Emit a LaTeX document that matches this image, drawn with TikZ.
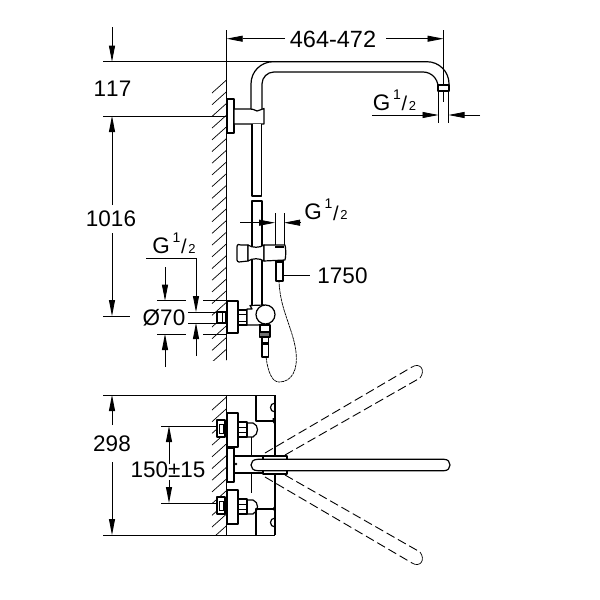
\documentclass[tikz,border=0pt]{standalone}
\usepackage{fontspec}
\setmainfont[Kerning=Off]{Liberation Sans}
\usetikzlibrary{arrows.meta}
\tikzset{
  dim/.style={line width=0.8pt,color=black},
  dimarrow/.style={dim,-{Triangle[length=16pt,width=6pt]}},
  part/.style={line width=1.2pt,line join=round,fill=white},
  partline/.style={line width=1.2pt,line join=round},
  thinp/.style={line width=0.7pt},
  hatchline/.style={line width=0.7pt},
  dashp/.style={line width=0.9pt,dash pattern=on 9pt off 4pt},
  big/.style={inner sep=0pt,font=\fontsize{22.5}{24}\selectfont},
  sup/.style={inner sep=0pt,font=\fontsize{14}{15}\selectfont},
  subn/.style={inner sep=0pt,font=\fontsize{13}{14}\selectfont},
  slashn/.style={inner sep=0pt,font=\fontsize{20}{21}\selectfont}
}
\newcommand{\gthread}[3]{%
  \node[big,anchor=center] (#3g) at (#1,#2) {G};
  \node[sup] (#3a) at (#1+15.5,#2-8) {1};
  \node[slashn] (#3s) at (#1+23,#2+1) {/};
  \node[subn] (#3b) at (#1+31,#2+3) {2};
}
\begin{document}
\begin{tikzpicture}[x=1pt,y=-1pt]
\useasboundingbox (0,0) rectangle (600,600);
\fill[white] (0,0) rectangle (600,600);

% --- walls
\begin{scope}
\clip (205,80) rectangle (227,360);
\foreach \y in {80,91.7,...,365}{\draw[hatchline] (226.5,\y) -- (212,\y+13);}
\end{scope}
\begin{scope}
\clip (205,395) rectangle (227,535);
\foreach \y in {397,408.7,...,535}{\draw[hatchline] (226.5,\y) -- (212,\y+13);}
\end{scope}
\draw[dim] (226.7,30) -- (226.7,360);
\draw[dim] (226.7,395) -- (226.7,535);

% --- upper dimension lines
\draw[dim] (103,61.7) -- (275,61.7);
\draw[dim] (103,116) -- (226.7,116);
\draw[dimarrow] (112,27) -- (112,61.7);
\draw[dimarrow] (112,205) -- (112,116);
\draw[dimarrow] (112,233) -- (112,316);
\draw[dim] (103,316) -- (130,316);
\node[big] (n117) at (112.5,89) {117};
\node[big] (n1016) at (111,219) {1016};
\draw[dimarrow] (285,38.7) -- (226.7,38.7);
\draw[dimarrow] (386,38.7) -- (443.5,38.7);
\node[big,font=\fontsize{23.5}{24}\selectfont] (n464) at (333,39) {464-472};
\draw[dim] (443.5,30) -- (443.5,102);

% --- shower arm
\draw[partline] (251,110) -- (251,84) .. controls (251,71.4) and (261,61.7) .. (273.3,61.7) -- (427,61.7) .. controls (439,61.7) and (449,71.5) .. (449,83.7) -- (449,91);
\draw[partline] (262,110) -- (262,84) .. controls (262,77.4) and (267.4,72) .. (274,72) -- (423,72) .. controls (431.3,72) and (438,78.7) .. (438,87) -- (438,91);
\draw[part] (438,85) rectangle (449,91);
\draw[dim] (438.5,91) -- (438.5,123);
\draw[dim] (448.5,91) -- (448.5,123);
\draw[dimarrow] (372,115) -- (438.5,115);
\draw[dimarrow] (480,115) -- (448.5,115);
\gthread{381.5}{102.5}{ga}

% --- wall bracket and riser
\draw[part] (227,99) rectangle (234,133);
\draw[part] (234,109) -- (250,109) .. controls (254,109) and (256,111) .. (257,111) .. controls (259,111) and (261,109) .. (264,108.5) -- (264,124) -- (234,124) -- cycle;
\draw[part] (252,124) -- (252,196) -- (261.5,196) -- (261.5,124);
\draw[part] (252,310) -- (252,201) -- (262,201) -- (262,310);

% --- slider clamp
\draw[part] (237,247) .. controls (237,244) and (239,244) .. (241,245) .. controls (243,246) and (246,244) .. (248,245) -- (248,261) -- (239,262) .. controls (238,262) and (237,261) .. (237,260) -- cycle;
\draw[part] (248,245) .. controls (252,248) and (260,248) .. (264,245) -- (264,261) .. controls (260,258) and (252,258) .. (248,261) -- cycle;
\draw[part] (264,245) -- (285,245) .. controls (286,248) and (286,257) .. (285,260) -- (264,261) -- cycle;
\draw[part] (276,262) rectangle (283,281);
\draw[partline] (276,260) -- (276,262) (283,260) -- (283,262);
\draw[line width=1.8pt] (275,247) -- (284,247);
\draw[dim] (275,213) -- (275,245);
\draw[dim] (284,213) -- (284,245);
\draw[dimarrow] (240,222.7) -- (275,222.7);
\draw[dimarrow] (301,222.7) -- (284,222.7);
\gthread{313}{212}{gb}
\draw[dim] (283,275) -- (310,275);
\node[big] (n1750) at (342.5,276) {1750};

% --- lower connection, side view
\draw[dim] (157,300.7) -- (186,300.7);
\draw[dim] (203,300.7) -- (227,300.7);
\draw[dim] (157,334) -- (186,334);
\draw[dim] (203,334) -- (227,334);
\draw[dim] (188,312) -- (217,312);
\draw[dim] (188,323) -- (217,323);
\draw[dim] (146,258) -- (196,258) -- (196,296);
\draw[dimarrow] (196,290) -- (196,312);
\draw[dimarrow] (196,356) -- (196,323);
\draw[dimarrow] (165,267) -- (165,300.7);
\draw[dimarrow] (165,367) -- (165,334);
\gthread{161}{245.5}{gc}
\node[big] (n70) at (164,318) {Ø70};
\draw[part] (217,312) rectangle (226,323);
\draw[thinp] (222,312) -- (222,323);
\draw[part] (227,301) rectangle (238,333);
\draw[part] (238,310) rectangle (247,325);
\draw[thinp] (238,314) -- (247,314) (238,321) -- (247,321);
\draw[part] (247,309) -- (252,309) -- (250,305.5) -- (264,305) -- (264,324) -- (258,325) -- (247,325) -- cycle;
\draw[part] (260,325) rectangle (270,332);
\draw[part] (265.5,314.5) circle[radius=9.5];
\draw[partline,fill=black!55] (259.5,332) rectangle (270,337);
\draw[part] (262,337) rectangle (268.5,357);
\fill (262,342) rectangle (268.5,344.5);
\draw[thinp,dash pattern=on 3pt off 0.6pt] (266,357) .. controls (268,372) and (272,382) .. (279,382) .. controls (292,382) and (298,370) .. (296,352) .. controls (293,328) and (280,310) .. (279,281);

% --- lower view dimension lines
\draw[dim] (103,395) -- (275,395);
\draw[dim] (103,535) -- (275,535);
\draw[dimarrow] (112,425) -- (112,395);
\draw[dimarrow] (112,462) -- (112,535);
\node[big] (n298) at (112,444) {298};
\draw[dim] (161,426) -- (217,426);
\draw[dim] (161,503) -- (217,503);
\draw[dimarrow] (169,464) -- (169,426);
\draw[dimarrow] (169,480) -- (169,503);
\node[big] (n150) at (168,470) {150±15};

% --- bottom view
\draw[line width=1.2pt] (275,395) -- (275,535);
\draw[partline] (256,395) -- (256,421) -- (275,421);
\draw[partline] (256,535) -- (256,509) -- (275,509);
\draw[partline] (275,403) .. controls (269,403) and (269,412) .. (275,412);
\draw[partline] (275,518) .. controls (269,518) and (269,527) .. (275,527);
\fill (272.5,418) -- (275,418) -- (275,425) -- (272.5,421.5) -- cycle;
\fill (272.5,509) -- (275,505) -- (275,512) -- cycle;
\foreach \yy in {0,77}{
  \draw[part] (217,420+\yy) rectangle (225,437+\yy);
  \draw[thinp] (219,424+\yy) rectangle (223,433+\yy);
  \draw[part] (227,413+\yy) rectangle (238,447+\yy);
  \draw[part] (238,422+\yy) rectangle (247,437+\yy);
  \draw[thinp] (238,427+\yy) -- (247,427+\yy) (238,432+\yy) -- (247,432+\yy);
  \draw[partline] (247,423+\yy) -- (253,423+\yy) .. controls (259,425+\yy) and (259,434+\yy) .. (253,437+\yy) -- (247,437+\yy);
}
\draw[partline] (251.5,437) -- (251.5,456);
\draw[partline] (251.5,472) -- (251.5,493);
\draw[dashp] (265,453) -- (412,367);
\draw[dashp] (285,455) -- (420,378);
\draw[dashp] (265,477) -- (412,563);
\draw[dashp] (285,475) -- (420,552);
\draw[thinp] (412,367) .. controls (420,362) and (426,370) .. (420,378);
\draw[thinp] (412,563) .. controls (420,568) and (426,560) .. (420,552);
\draw[part] (227,448) rectangle (234,482);
\draw[partline] (234,456) -- (263,456);
\draw[partline] (234,473) -- (263,473);
\draw[part] (263,456) rectangle (287,459.5);
\draw[part] (263,470.5) rectangle (287,474);
\draw[part] (444,459.3) .. controls (448,459.3) and (450,462) .. (450,465) .. controls (450,468) and (448,470.7) .. (444,470.7) -- (258,470.7) .. controls (253,470.7) and (251,468) .. (251,465) .. controls (251,462) and (253,459.3) .. (258,459.3) -- cycle;
\fill (236,464) circle[radius=1.3];
\end{tikzpicture}
\end{document}
